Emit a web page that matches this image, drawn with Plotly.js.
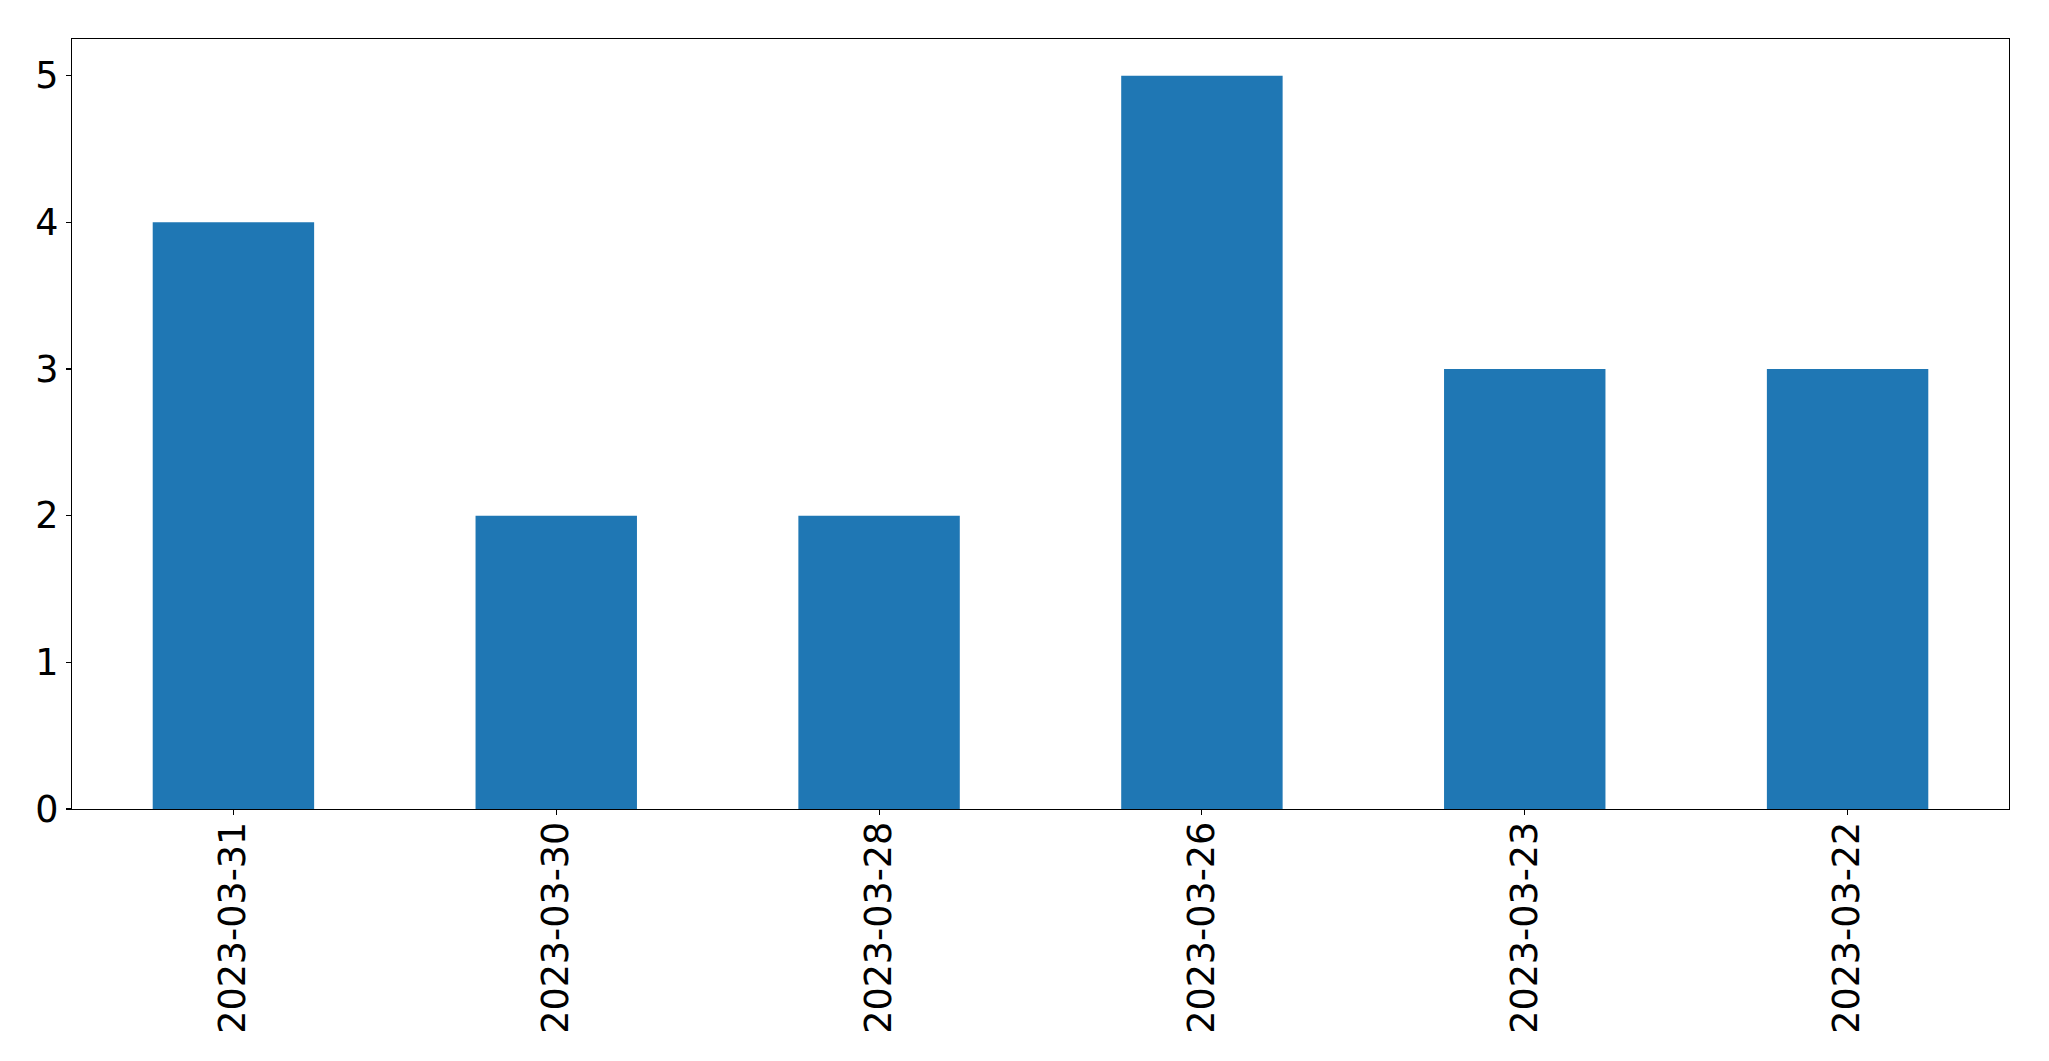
<!DOCTYPE html>
<html>
<head>
<meta charset="utf-8">
<script src="https://cdn.plot.ly/plotly-3.0.1.min.js"></script>
<style>html,body{margin:0;padding:0;background:#fff;}#chart{width:2049px;height:1061px;}</style>
</head>
<body>
<div id="chart"></div>
<script>
const dates = ["2023-03-31", "2023-03-30", "2023-03-28", "2023-03-26", "2023-03-23", "2023-03-22"];
const counts = [4, 2, 2, 5, 3, 3];
const yTicks = [0, 1, 2, 3, 4, 5];

const trace = {
  type: "bar",
  x: dates,
  y: counts,
  width: 0.5,
  marker: {color: "#1f77b4", line: {width: 0}},
  hoverinfo: "x+y"
};

const layout = {
  width: 2049,
  height: 1061,
  margin: {l: 72, r: 40, t: 39, b: 252, pad: 0},
  paper_bgcolor: "#ffffff",
  plot_bgcolor: "#ffffff",
  showlegend: false,
  font: {family: "DejaVu Sans", color: "#000000", size: 36.5},
  xaxis: {
    type: "category",
    range: [-0.5, 5.5],
    showgrid: false,
    zeroline: false,
    showline: true,
    mirror: true,
    linecolor: "#000000",
    linewidth: 1.1,
    ticks: "outside",
    ticklen: 5,
    tickwidth: 1.1,
    tickcolor: "#000000",
    tickangle: -90,
    tickfont: {family: "DejaVu Sans", size: 36.5, color: "#000000"},
    ticklabelstandoff: -8
  },
  yaxis: {
    range: [0, 5.25],
    tickvals: yTicks,
    ticktext: yTicks.map(String),
    showgrid: false,
    zeroline: false,
    showline: true,
    mirror: true,
    linecolor: "#000000",
    linewidth: 1.1,
    ticks: "outside",
    ticklen: 5,
    tickwidth: 1.1,
    tickcolor: "#000000",
    tickfont: {family: "DejaVu Sans", size: 36.5, color: "#000000"}
  }
};

Plotly.newPlot("chart", [trace], layout, {displayModeBar: false, staticPlot: true});
</script>
</body>
</html>
